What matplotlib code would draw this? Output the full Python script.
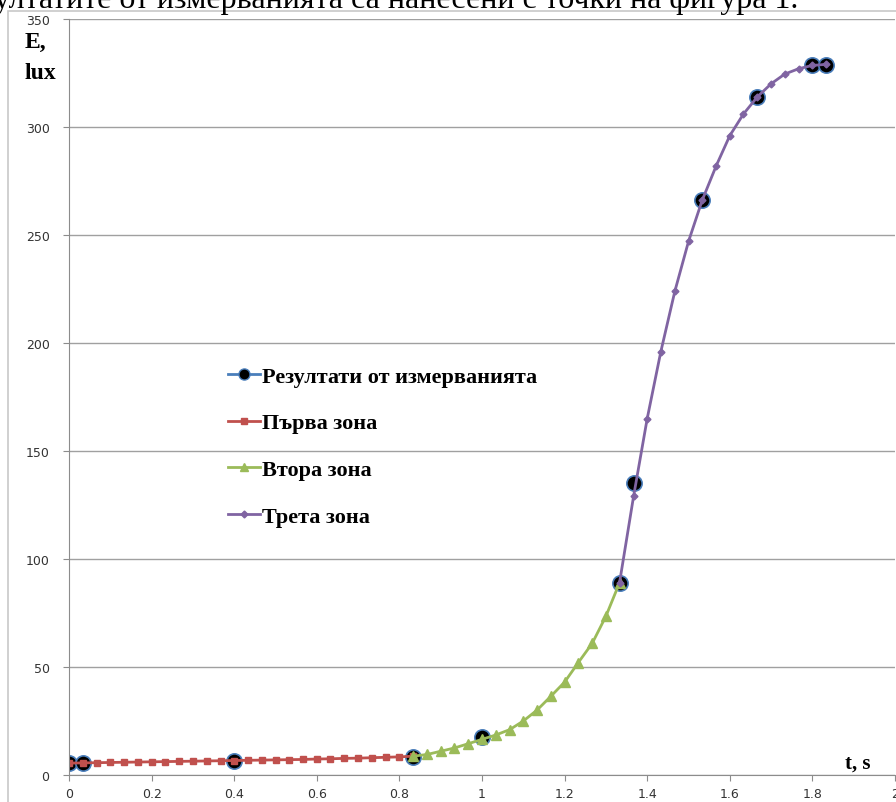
import matplotlib
matplotlib.use("Agg")
import matplotlib.pyplot as plt
from matplotlib.patches import Rectangle
from matplotlib.lines import Line2D

# measured points
t_meas = [0, 0.033, 0.4, 0.833, 1.0, 1.333, 1.367, 1.533, 1.667, 1.8, 1.833]
e_meas = [5.5, 5.5, 6.5, 8.3, 17.6, 89, 135, 266, 314, 328.5, 328.5]

# first zone
t_zone1 = [0, 0.033, 0.067, 0.1, 0.133, 0.167, 0.2, 0.233, 0.267, 0.3, 0.333, 0.367, 0.4,
           0.433, 0.467, 0.5, 0.533, 0.567, 0.6, 0.633, 0.667, 0.7, 0.733, 0.767, 0.8, 0.833]
e_zone1 = [5.5, 5.6, 5.7, 5.8, 5.9, 6.0, 6.1, 6.2, 6.3, 6.4, 6.5, 6.6, 6.7,
           6.8, 6.9, 7.0, 7.1, 7.2, 7.4, 7.5, 7.7, 7.8, 8.0, 8.2, 8.4, 8.7]

# second zone
t_zone2 = [0.833, 0.867, 0.9, 0.933, 0.967, 1.0, 1.033, 1.067, 1.1, 1.133, 1.167, 1.2,
           1.233, 1.267, 1.3, 1.333]
e_zone2 = [8.7, 9.5, 11, 12.5, 14.5, 16.5, 18.5, 21, 25, 30, 36.5, 43, 52, 61, 73.5, 89]

# third zone
t_zone3 = [1.333, 1.367, 1.4, 1.433, 1.467, 1.5, 1.533, 1.567, 1.6, 1.633, 1.667, 1.7,
           1.733, 1.767, 1.8, 1.833]
e_zone3 = [89, 129, 165, 196, 224, 247, 266, 282, 296, 306, 314, 320, 324.5, 327, 328.5, 329]

labels = ['Резултати от измерванията', 'Първа зона', 'Втора зона', 'Трета зона']
x_ticks = [0, 0.2, 0.4, 0.6, 0.8, 1, 1.2, 1.4, 1.6, 1.8, 2]
x_tick_labels = ['0', '0.2', '0.4', '0.6', '0.8', '1', '1.2', '1.4', '1.6', '1.8', '2']
y_ticks = [0, 50, 100, 150, 200, 250, 300, 350]

W, H = 896, 803
fig = plt.figure(figsize=(W / 100, H / 100), dpi=100)

# chart area frame (cropped screenshot)
fig.patches.append(Rectangle((8 / W, -0.1), 1.2, 1 - 12 / H + 0.1, transform=fig.transFigure,
                             fill=False, edgecolor='#c8c8c8', linewidth=1.2))

# caption text above, cut by the crop
fig.text(-50 / W, 1 - 8 / H, 'Резултатите от измерванията са нанесени с точки на фигура 1.',
         family='Liberation Serif', fontsize=23, va='baseline', ha='left', color='black')

ax = fig.add_axes([69 / W, 27 / H, (895 - 69) / W, (776 - 20) / H])

ax.plot(t_meas, e_meas, linestyle='none', marker='o', markersize=11,
        markerfacecolor='black', markeredgecolor='#4a7ebb', markeredgewidth=1.2)
ax.plot(t_zone1, e_zone1, color='#c0504d', linewidth=2, marker='s', markersize=5)
ax.plot(t_zone2, e_zone2, color='#9bbb59', linewidth=2, marker='^', markersize=6.5)
ax.plot(t_zone3, e_zone3, color='#8064a2', linewidth=2, marker='D', markersize=3.5)

ax.set_xlim(0, 2)
ax.set_ylim(0, 350)
ax.set_xticks(x_ticks)
ax.set_xticklabels(x_tick_labels)
ax.set_yticks(y_ticks)
ax.grid(axis='y', color='#a0a0a0', linewidth=1)
ax.set_axisbelow(True)
for side in ['top', 'right']:
    ax.spines[side].set_visible(False)
for side in ['left', 'bottom']:
    ax.spines[side].set_color('#8c8c8c')
ax.tick_params(axis='both', colors='#8c8c8c', labelcolor='#333333', labelsize=9,
               direction='out', length=4)
ax.tick_params(axis='x', pad=5)
ax.tick_params(axis='y', pad=10)

handles = [
    Line2D([], [], color='#4a7ebb', linewidth=2, marker='o', markersize=8,
           markerfacecolor='black', markeredgecolor='#4a7ebb'),
    Line2D([], [], color='#c0504d', linewidth=2, marker='s', markersize=5),
    Line2D([], [], color='#9bbb59', linewidth=2, marker='^', markersize=6),
    Line2D([], [], color='#8064a2', linewidth=2, marker='D', markersize=3.5),
]
leg = ax.legend(handles, labels, loc='upper left', bbox_to_anchor=(228 / W, 1 - 367 / H),
                bbox_transform=fig.transFigure, frameon=False, numpoints=1,
                borderpad=0, borderaxespad=0,
                handlelength=1.45, handletextpad=0.1, labelspacing=1.18,
                prop={'family': 'Liberation Serif', 'weight': 'bold', 'size': 16})

fig.text(25 / W, 1 - 48 / H, 'E,', family='Liberation Serif', weight='bold', fontsize=17,
         va='baseline')
fig.text(25 / W, 1 - 79 / H, 'lux', family='Liberation Serif', weight='bold', fontsize=17,
         va='baseline')
fig.text(845 / W, 1 - 769 / H, 't, s', family='Liberation Serif', weight='bold', fontsize=15,
         va='baseline')

fig.savefig('out.png', dpi=100)
